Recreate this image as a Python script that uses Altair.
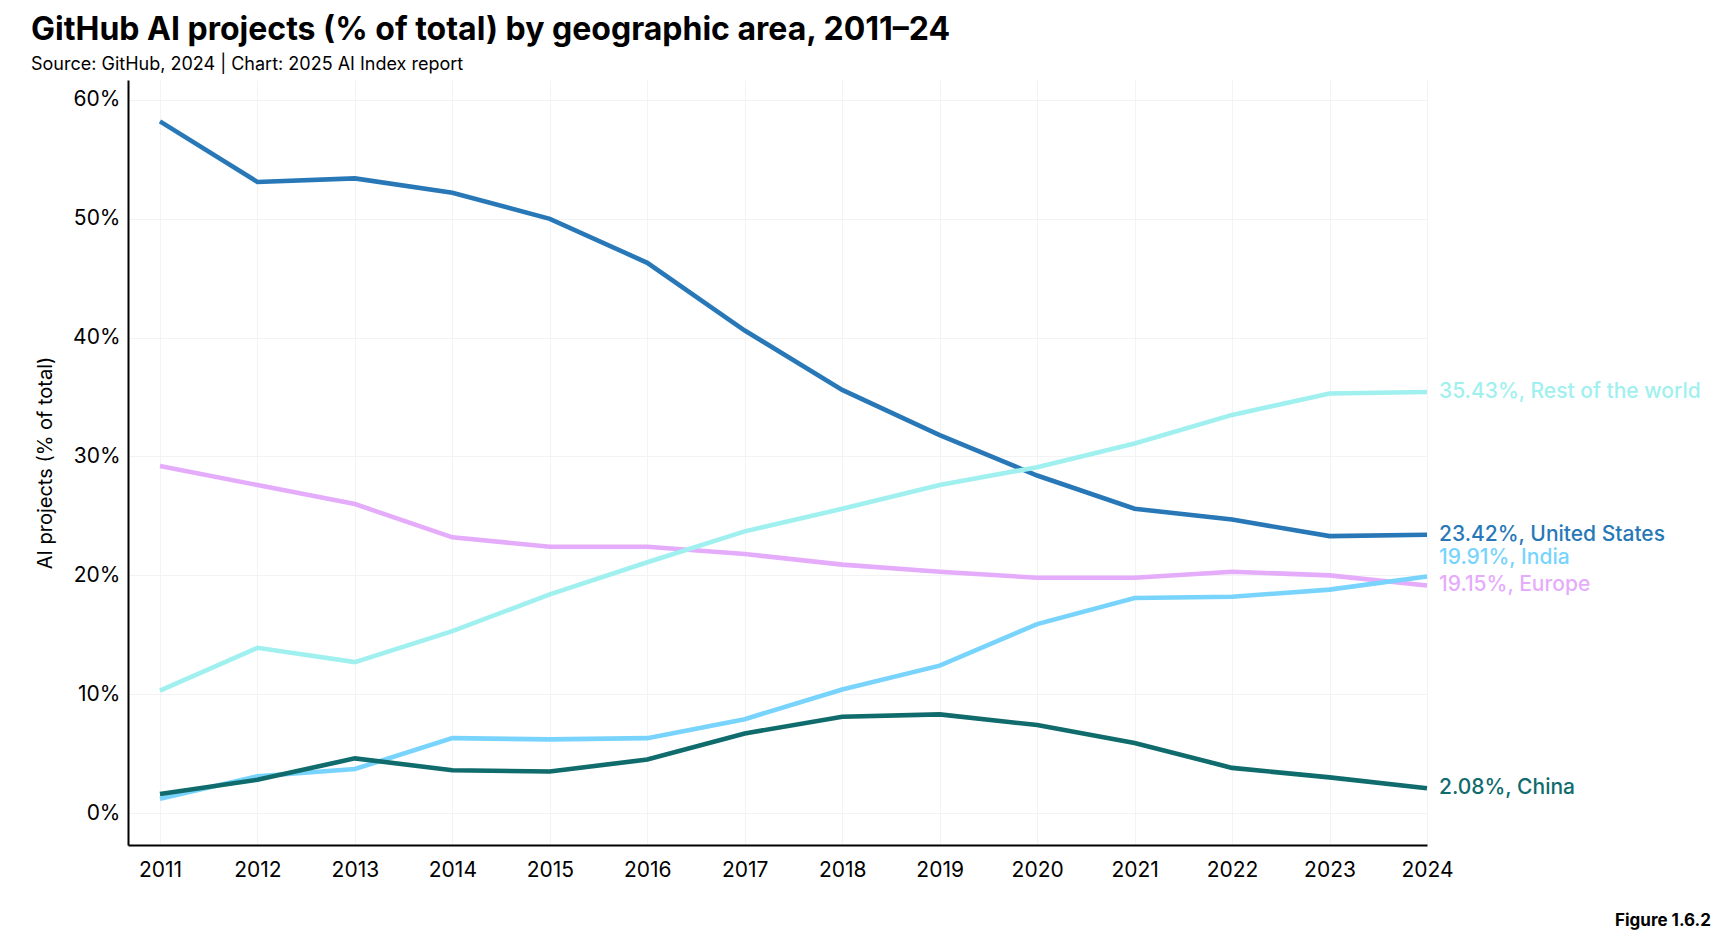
import altair as alt
import pandas as pd

years = list(range(2011, 2025))
regions = ["United States", "Europe", "Rest of the world", "India", "China"]
us = [58.2, 53.1, 53.4, 52.2, 50.0, 46.3, 40.6, 35.6, 31.8, 28.4, 25.6, 24.7, 23.3, 23.42]
europe = [29.2, 27.6, 26.0, 23.2, 22.4, 22.4, 21.8, 20.9, 20.3, 19.8, 19.8, 20.3, 20.0, 19.15]
rest = [10.3, 13.9, 12.7, 15.3, 18.4, 21.1, 23.7, 25.6, 27.6, 29.1, 31.1, 33.5, 35.3, 35.43]
india = [1.2, 3.1, 3.7, 6.3, 6.2, 6.3, 7.9, 10.4, 12.4, 15.9, 18.1, 18.2, 18.8, 19.91]
china = [1.6, 2.8, 4.6, 3.6, 3.5, 4.5, 6.7, 8.1, 8.3, 7.4, 5.9, 3.8, 3.0, 2.08]
colors = ["#2878b8", "#e5acfb", "#9ff0ef", "#78d4fc", "#0f6b6c"]

series = [us, europe, rest, india, china]
rows = []
for name, vals in zip(regions, series):
    for y, v in zip(years, vals):
        rows.append({"year": y, "region": name, "value": v})
df = pd.DataFrame(rows)

FONT = "Inter"

x = alt.X("year:Q", scale=alt.Scale(domain=[2010.672, 2024], nice=False, zero=False),
          axis=alt.Axis(values=years, format="d", title=None, labelFontSize=21,
                        labelFont=FONT, labelColor="black", labelPadding=14, ticks=False,
                        domainColor="black", domainWidth=2, gridColor="#f3f3f3",
                        gridWidth=1, labelFlush=False))
y = alt.Y("value:Q", scale=alt.Scale(domain=[-2.69, 61.68], nice=False, zero=False),
          axis=alt.Axis(values=[0, 10, 20, 30, 40, 50, 60], labelExpr="datum.value + '%'",
                        title="AI projects (% of total)", titleFontSize=20, titleFont=FONT,
                        titleFontWeight="normal", titleColor="black", titlePadding=17,
                        labelFontSize=21, labelFont=FONT, labelColor="black", labelPadding=8,
                        ticks=False, domainColor="black", domainWidth=2,
                        gridColor="#f3f3f3", gridWidth=1))
color = alt.Color("region:N", scale=alt.Scale(domain=regions, range=colors), legend=None)

base = alt.Chart(df)
lines = base.mark_line(strokeWidth=4.6).encode(x=x, y=y, color=color, detail="region:N")

last = base.transform_filter("datum.year == 2024").transform_calculate(
    label="format(datum.value, '.2f') + '%, ' + datum.region")
labels = last.transform_filter("datum.region != 'India'").mark_text(
    align="left", baseline="middle", dx=12, fontSize=21, font=FONT, fontWeight=500
).encode(x="year:Q", y="value:Q", text="label:N", color=color)
india_label = last.transform_filter("datum.region == 'India'").mark_text(
    align="left", baseline="middle", dx=12, dy=-18, fontSize=21, font=FONT, fontWeight=500
).encode(x="year:Q", y="value:Q", text="label:N", color=color)

fig = alt.Chart(pd.DataFrame({"t": ["Figure 1.6.2"]})).mark_text(
    align="right", baseline="alphabetic", fontSize=17, font=FONT, fontWeight="bold", color="black"
).encode(x=alt.value(1583), y=alt.value(846), text="t:N")

chart = alt.layer(lines, labels, india_label, fig).properties(
    width=1299, height=765,
    padding={"left": 120, "top": 72, "right": 295, "bottom": 95},
    autosize=alt.AutoSizeParams(type="none"),
    title=alt.TitleParams(
        text="GitHub AI projects (% of total) by geographic area, 2011–24",
        subtitle="Source: GitHub, 2024 | Chart: 2025 AI Index report",
        anchor="start", frame="group", dx=-97, offset=5,
        font=FONT, fontSize=32, fontWeight="bold", color="black",
        subtitleFont=FONT, subtitleFontSize=18, subtitleColor="black", subtitlePadding=9),
).configure_view(stroke=None)

chart.save("out.html", embed_options={"renderer": "svg", "actions": False})
